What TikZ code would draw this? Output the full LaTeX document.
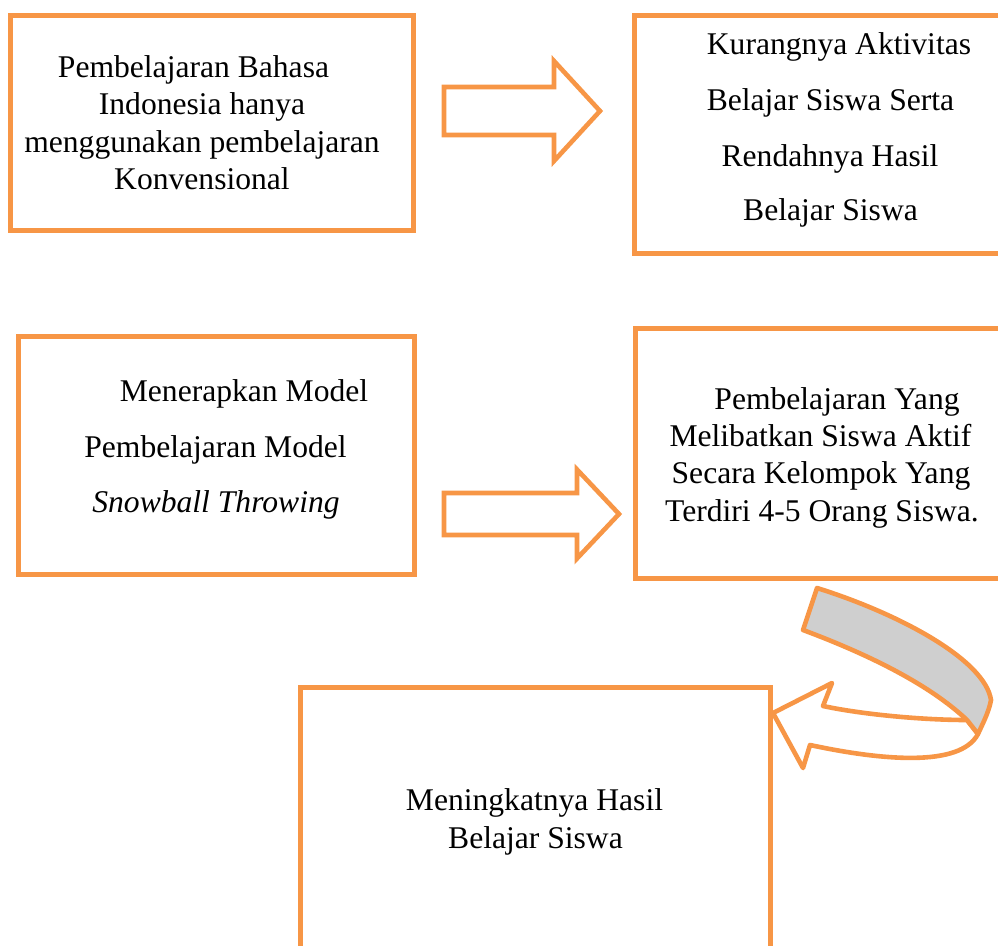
\documentclass[tikz,border=0pt]{standalone}
\usepackage{fontspec}
\setmainfont{Liberation Serif}
\definecolor{orn}{HTML}{F79646}
\definecolor{ribbon}{HTML}{CFCFCF}
\begin{document}
\begin{tikzpicture}[x=1pt,y=-1pt,
  box/.style={draw=orn, line width=5pt, rectangle, inner sep=0pt},
  txt/.style={anchor=base, inner sep=0pt, font=\fontsize{31.6}{38}\selectfont},
  blockarrow/.style={draw=orn, line width=4.6pt, fill=white, line join=miter},
  ribbonpart/.style={draw=orn, line width=4.6pt, line join=round}
]
\useasboundingbox (0,0) rectangle (998,945);
\clip (0,0) rectangle (998,945);

% boxes
\node[box, minimum width=403pt, minimum height=215pt] (b1) at (211.5,122.5) {};
\node[box, minimum width=376pt, minimum height=238pt] (b2) at (822,134) {};
\node[box, minimum width=396pt, minimum height=237.5pt] (b3) at (216.5,455.25) {};
\node[box, minimum width=375pt, minimum height=250pt] (b4) at (822.5,453) {};
\node[box, minimum width=470pt, minimum height=273pt] (b5) at (535,823.5) {};

% texts box 1
\node[txt] (t1a) at (193.5,77) {Pembelajaran Bahasa};
\node[txt] (t1b) at (202,114) {Indonesia hanya};
\node[txt] (t1c) at (202,152) {menggunakan pembelajaran};
\node[txt] (t1d) at (202,189) {Konvensional};

% texts box 2
\node[txt] (t2a) at (839,54) {Kurangnya Aktivitas};
\node[txt] (t2b) at (830.5,110) {Belajar Siswa Serta};
\node[txt] (t2c) at (830,166) {Rendahnya Hasil};
\node[txt] (t2d) at (830.5,220) {Belajar Siswa};

% texts box 3
\node[txt] (t3a) at (244,401) {Menerapkan Model};
\node[txt] (t3b) at (215.5,457) {Pembelajaran Model};
\node[txt] (t3c) at (216,512) {\itshape Snowball Throwing};

% texts box 4
\node[txt] (t4a) at (837,409) {Pembelajaran Yang};
\node[txt] (t4b) at (820.5,446) {Melibatkan Siswa Aktif};
\node[txt] (t4c) at (821,483) {Secara Kelompok Yang};
\node[txt] (t4d) at (822,521) {Terdiri 4-5 Orang Siswa.};

% texts box 5
\node[txt] (t5a) at (534.5,810) {Meningkatnya Hasil};
\node[txt] (t5b) at (535.5,848) {Belajar Siswa};

% block arrow 1
\draw[blockarrow] (444,87) -- (554,87) -- (554,61) -- (600,111) -- (554,161) -- (554,135) -- (444,135) -- cycle;
% block arrow 2
\draw[blockarrow] (444,493) -- (577,493) -- (577,469.5) -- (619,514) -- (577,558.5) -- (577,535) -- (444,535) -- cycle;

% curved arrow: underside (white) with head
\draw[ribbonpart, fill=white] (967,720) .. controls (920,720) and (860,714) .. (823,706)
  -- (832,683) -- (773,713) -- (803,768) -- (810,745)
  .. controls (880,760) and (960,768) .. (978,734) -- cycle;
% curved arrow: upper side (grey)
\draw[ribbonpart, fill=ribbon] (817,588) .. controls (900,614) and (985,660) .. (991,700)
  .. controls (989,712) and (982,725) .. (978,734) -- (967,720)
  .. controls (930,685) and (870,655) .. (803,630) -- cycle;
\end{tikzpicture}
\end{document}
